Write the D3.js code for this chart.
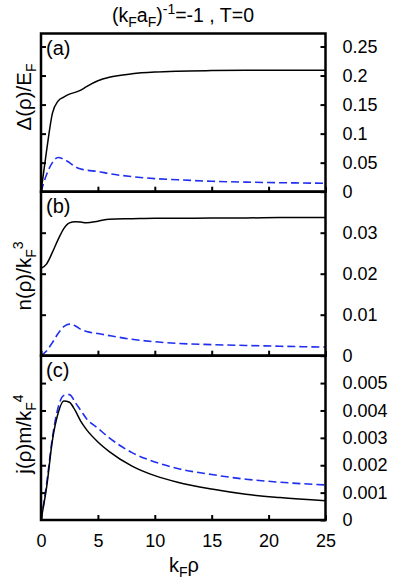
<!DOCTYPE html>
<html>
<head>
<meta charset="utf-8">
<script src="https://cdn.jsdelivr.net/npm/d3@7"></script>
<style>
  body { margin: 0; background: #fff; }
  svg { font-family: "Liberation Sans", Arial, sans-serif; }
</style>
</head>
<body>
<div id="chart"></div>
<script>
// k_F rho sample points (shared by every curve)
const rho = [0, 0.5, 1, 1.5, 2, 2.5, 3, 3.5, 4, 5, 6, 8, 10, 12, 15, 18, 21, 25];

// panel (a): Delta(rho)/E_F
const gapSolid  = [0, 0.072, 0.135, 0.156, 0.163, 0.168, 0.171, 0.175, 0.181, 0.191, 0.197, 0.203, 0.206, 0.2075, 0.2085, 0.209, 0.209, 0.209];
const gapDashed = [0, 0.030, 0.050, 0.059, 0.056, 0.050, 0.043, 0.039, 0.037, 0.035, 0.031, 0.026, 0.0225, 0.0205, 0.018, 0.0165, 0.0155, 0.0145];

// panel (b): n(rho)/k_F^3
const densSolid  = [0.0213, 0.0224, 0.0252, 0.0283, 0.0310, 0.0324, 0.0327, 0.0326, 0.0324, 0.0328, 0.0333, 0.0334, 0.0335, 0.0335, 0.0336, 0.0336, 0.0337, 0.0337];
const densDashed = [0, 0.0012, 0.0032, 0.0054, 0.0071, 0.0077, 0.0073, 0.0064, 0.0059, 0.0054, 0.0049, 0.0040, 0.0034, 0.0030, 0.0027, 0.0025, 0.0023, 0.0021];

// panel (c): j(rho) m/k_F^4
const curSolid  = [0, 0.00122, 0.0029, 0.0039, 0.00435, 0.0043, 0.0040, 0.0036, 0.0033, 0.00285, 0.0025, 0.00197, 0.00162, 0.00138, 0.00113, 0.00094, 0.00082, 0.0007];
const curDashed = [0, 0.00134, 0.0030, 0.0041, 0.00455, 0.00458, 0.0043, 0.0040, 0.0037, 0.00335, 0.0030, 0.00246, 0.00212, 0.00188, 0.00166, 0.00149, 0.00138, 0.00128];

// tick labels
const xTicks = [0, 5, 10, 15, 20, 25];
const yTicksA = [0, 0.05, 0.1, 0.15, 0.2, 0.25];
const yTicksB = [0, 0.01, 0.02, 0.03];
const yTicksC = [0, 0.001, 0.002, 0.003, 0.004, 0.005];

const width = 409, height = 584;
const left = 41, right = 325.5;

const svg = d3.select("#chart").append("svg")
    .attr("width", width)
    .attr("height", height);

const x = d3.scaleLinear().domain([0, 25]).range([left, right]);

// panel boxes: top, bottom, y max
const panels = [
  {top: 33.5, bottom: 191.7, ymax: 0.2724, ticks: yTicksA, solid: gapSolid, dashed: gapDashed, tag: "(a)"},
  {top: 191.7, bottom: 355.7, ymax: 0.04, ticks: yTicksB, solid: densSolid, dashed: densDashed, tag: "(b)"},
  {top: 355.7, bottom: 520, ymax: 0.006, ticks: yTicksC, solid: curSolid, dashed: curDashed, tag: "(c)"}
];

panels.forEach((p, i) => {
  const y = d3.scaleLinear().domain([0, p.ymax]).range([p.bottom, p.top]);
  const g = svg.append("g");

  // curves
  const line = d3.line()
      .x((d, k) => x(rho[k]))
      .y(d => y(d))
      .curve(d3.curveMonotoneX);

  g.append("path")
    .datum(p.dashed)
    .attr("d", line)
    .attr("fill", "none")
    .attr("stroke", "#1f2ef0")
    .attr("stroke-width", 1.6)
    .attr("stroke-dasharray", "8,4");

  g.append("path")
    .datum(p.solid)
    .attr("d", line)
    .attr("fill", "none")
    .attr("stroke", "black")
    .attr("stroke-width", 1.5);

  // inward ticks on the left, labels on the right
  g.append("g")
    .attr("transform", `translate(${left},0)`)
    .call(d3.axisLeft(y).tickValues(p.ticks.filter(t => t > 0)).tickSize(-5).tickFormat(""))
    .call(a => a.select(".domain").remove())
    .selectAll("line").attr("stroke-width", 2);

  const ra = g.append("g")
    .attr("transform", `translate(${right},0)`)
    .call(d3.axisRight(y).tickValues(p.ticks).tickSize(-5).tickPadding(17).tickFormat(d => String(d)))
    .call(a => a.select(".domain").remove());
  ra.selectAll("line").attr("stroke-width", 2);
  ra.selectAll("text")
    .attr("font-size", 18)
    .attr("font-family", "'Liberation Sans', Arial, sans-serif")
    .attr("fill", "black");

  // x ticks at the bottom of each panel
  const xa = g.append("g")
    .attr("transform", `translate(0,${p.bottom})`)
    .call(d3.axisBottom(x).tickValues(xTicks).tickSize(-5).tickPadding(14)
      .tickFormat(i === 2 ? d => String(d) : ""))
    .call(a => a.select(".domain").remove());
  xa.selectAll("line").attr("stroke-width", 2);
  xa.selectAll("text")
    .attr("font-size", 18)
    .attr("font-family", "'Liberation Sans', Arial, sans-serif")
    .attr("fill", "black");

  // frame
  g.append("rect")
    .attr("x", left)
    .attr("y", p.top)
    .attr("width", right - left)
    .attr("height", p.bottom - p.top)
    .attr("fill", "none")
    .attr("stroke", "black")
    .attr("stroke-width", 2.5);

  // panel tag
  g.append("text")
    .attr("x", left + 5)
    .attr("y", p.top + 21)
    .attr("font-size", 20)
    .text(p.tag);
});

// title
const title = svg.append("text")
    .attr("x", 183)
    .attr("y", 22)
    .attr("text-anchor", "middle")
    .attr("font-size", 19.5);
title.append("tspan").text("(k");
title.append("tspan").attr("font-size", 14).attr("dy", 5).text("F");
title.append("tspan").attr("dy", -5).text("a");
title.append("tspan").attr("font-size", 14).attr("dy", 5).text("F");
title.append("tspan").attr("dy", -5).text(")");
title.append("tspan").attr("font-size", 14).attr("dy", -8).text("-1");
title.append("tspan").attr("dy", 8).text("=-1 , T=0");

// x label
const xl = svg.append("text")
    .attr("x", 184)
    .attr("y", 572)
    .attr("text-anchor", "middle")
    .attr("font-size", 20);
xl.append("tspan").text("k");
xl.append("tspan").attr("font-size", 14).attr("dy", 5).text("F");
xl.append("tspan").attr("dy", -5).text("ρ");

// y labels, rotated
function yLabel(cy, parts) {
  const t = svg.append("text")
      .attr("transform", `translate(31,${cy}) rotate(-90)`)
      .attr("text-anchor", "middle")
      .attr("font-size", 20.5);
  parts.forEach(([s, dy, small]) => {
    const ts = t.append("tspan").text(s);
    if (dy) ts.attr("dy", dy);
    if (small) ts.attr("font-size", 14);
  });
}
yLabel(97, [["Δ(ρ)/E"], ["F", 5, true], ["", -5]]);
yLabel(276, [["n(ρ)/k"], ["F", 5, true], ["3", -13, true]]);
yLabel(434, [["j(ρ)m/k"], ["F", 5, true], ["4", -13, true]]);
</script>
</body>
</html>
